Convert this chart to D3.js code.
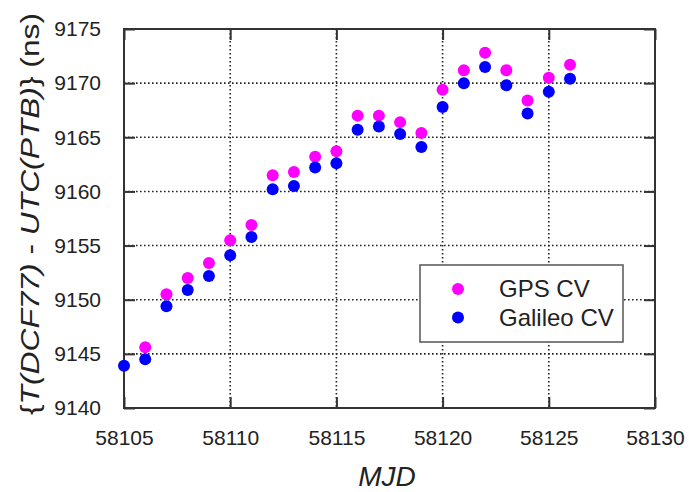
<!DOCTYPE html>
<html>
<head>
<meta charset="utf-8">
<script src="https://cdn.jsdelivr.net/npm/d3@7"></script>
<style>
  body { margin: 0; background: #fff; }
  svg { font-family: Arial, "Liberation Sans", sans-serif; }
</style>
</head>
<body>
<svg id="chart"></svg>
<script>
const mjd = [58105, 58106, 58107, 58108, 58109, 58110, 58111, 58112, 58113, 58114, 58115,
  58116, 58117, 58118, 58119, 58120, 58121, 58122, 58123, 58124, 58125, 58126];
const gpsCV = [null, 9145.6, 9150.5, 9152.0, 9153.4, 9155.5, 9156.9, 9161.5, 9161.8, 9163.2, 9163.7,
  9167.0, 9167.0, 9166.4, 9165.4, 9169.4, 9171.2, 9172.8, 9171.2, 9168.4, 9170.5, 9171.7];
const galileoCV = [9143.9, 9144.5, 9149.4, 9150.9, 9152.2, 9154.1, 9155.8, 9160.2, 9160.5, 9162.2, 9162.6,
  9165.7, 9166.0, 9165.3, 9164.1, 9167.8, 9170.0, 9171.5, 9169.8, 9167.2, 9169.2, 9170.4];
const xTicks = [58105, 58110, 58115, 58120, 58125, 58130];
const yTicks = [9140, 9145, 9150, 9155, 9160, 9165, 9170, 9175];
const seriesNames = ["GPS CV", "Galileo CV"];
const seriesColors = ["#ff00ff", "#0000ff"];

const width = 689;
const height = 492;
const margin = { top: 29, right: 34, bottom: 84, left: 124 };
const innerW = width - margin.left - margin.right;
const innerH = height - margin.top - margin.bottom;

const svg = d3.select("#chart").attr("width", width).attr("height", height);
const g = svg.append("g").attr("transform", `translate(${margin.left}, ${margin.top})`);

const x = d3.scaleLinear().domain([58105, 58130]).range([0, innerW]);
const y = d3.scaleLinear().domain([9140, 9175]).range([innerH, 0]);

// dotted grid
g.append("g").selectAll("line")
  .data(xTicks.slice(1, -1))
  .join("line")
  .attr("x1", d => x(d)).attr("x2", d => x(d))
  .attr("y1", 0).attr("y2", innerH)
  .attr("stroke", "#222").attr("stroke-width", 1.6).attr("stroke-dasharray", "1.6,2.4");
g.append("g").selectAll("line")
  .data(yTicks.slice(1, -1))
  .join("line")
  .attr("x1", 0).attr("x2", innerW)
  .attr("y1", d => y(d)).attr("y2", d => y(d))
  .attr("stroke", "#222").attr("stroke-width", 1.6).attr("stroke-dasharray", "1.6,2.4");

// axes with inward ticks on all sides
const styleAxis = sel => {
  sel.select(".domain").remove();
  sel.selectAll(".tick line").attr("stroke", "#333").attr("stroke-width", 2);
};
g.append("g")
  .attr("transform", `translate(0, ${innerH})`)
  .call(d3.axisBottom(x).tickValues(xTicks).tickFormat(d3.format("d")).tickSizeInner(-11).tickPadding(22))
  .call(styleAxis)
  .selectAll("text").attr("font-size", 21).attr("fill", "#222").attr("font-family", "Arial, 'Liberation Sans', sans-serif");
g.append("g")
  .call(d3.axisTop(x).tickValues(xTicks).tickFormat("").tickSizeInner(-11))
  .call(styleAxis);
g.append("g")
  .call(d3.axisLeft(y).tickValues(yTicks).tickFormat(d3.format("d")).tickSizeInner(-11).tickPadding(23))
  .call(styleAxis)
  .selectAll("text").attr("font-size", 21).attr("fill", "#222").attr("font-family", "Arial, 'Liberation Sans', sans-serif");
g.append("g")
  .attr("transform", `translate(${innerW}, 0)`)
  .call(d3.axisRight(y).tickValues(yTicks).tickFormat("").tickSizeInner(-11))
  .call(styleAxis);

g.append("rect")
  .attr("width", innerW).attr("height", innerH)
  .attr("fill", "none").attr("stroke", "#333").attr("stroke-width", 2);

// points
const gpsPts = mjd.map((m, i) => ({ m, v: gpsCV[i] })).filter(d => d.v !== null);
const galPts = mjd.map((m, i) => ({ m, v: galileoCV[i] })).filter(d => d.v !== null);
g.append("g").selectAll("circle")
  .data(gpsPts).join("circle")
  .attr("cx", d => x(d.m)).attr("cy", d => y(d.v)).attr("r", 6)
  .attr("fill", seriesColors[0]);
g.append("g").selectAll("circle")
  .data(galPts).join("circle")
  .attr("cx", d => x(d.m)).attr("cy", d => y(d.v)).attr("r", 6)
  .attr("fill", seriesColors[1]);

// legend
const legend = svg.append("g").attr("transform", "translate(420, 265)");
legend.append("rect")
  .attr("width", 203).attr("height", 77)
  .attr("fill", "#fff").attr("stroke", "#555").attr("stroke-width", 1.5);
seriesNames.forEach((name, i) => {
  legend.append("circle").attr("cx", 38).attr("cy", 24 + i * 28.5).attr("r", 6).attr("fill", seriesColors[i]);
  legend.append("text").attr("x", 79).attr("y", 32 + i * 28.5)
    .attr("font-size", 24).attr("fill", "#222").text(name);
});

// axis titles
svg.append("text")
  .attr("x", 387).attr("y", 486)
  .attr("text-anchor", "middle")
  .attr("font-size", 28).attr("font-style", "italic").attr("fill", "#222")
  .text("MJD");

const yLabel = svg.append("text")
  .attr("transform", "translate(39, 214) rotate(-90) scale(1.27, 1)")
  .attr("text-anchor", "middle")
  .attr("font-size", 25).attr("fill", "#222");
yLabel.append("tspan").text("{");
yLabel.append("tspan").attr("font-style", "italic").text("T(DCF77)");
yLabel.append("tspan").text(" - ");
yLabel.append("tspan").attr("font-style", "italic").text("UTC(PTB)");
yLabel.append("tspan").text("} (ns)");
</script>
</body>
</html>
